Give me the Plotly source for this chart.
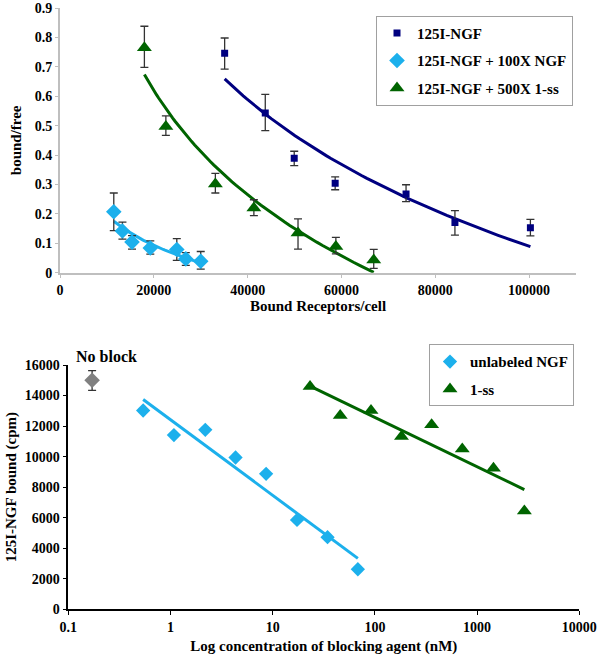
import numpy as np
import plotly.graph_objects as go

# ---------------- Top panel data (Scatchard) ----------------
ngf_x = [35100, 43760, 49930, 58660, 73770, 84190, 100280]
ngf_y = [0.746, 0.543, 0.389, 0.304, 0.268, 0.171, 0.153]
ngf_hi = [0.798, 0.606, 0.413, 0.326, 0.299, 0.211, 0.181]
ngf_lo = [0.692, 0.483, 0.364, 0.282, 0.242, 0.128, 0.125]

cold_x = [11465, 13310, 15350, 19250, 24900, 26820, 30000]
cold_y = [0.207, 0.142, 0.104, 0.084, 0.079, 0.047, 0.039]
cold_hi = [0.271, 0.172, 0.126, 0.108, 0.116, 0.068, 0.072]
cold_lo = [0.143, 0.114, 0.080, 0.063, 0.042, 0.025, 0.012]

ss_x = [17990, 22570, 33120, 41330, 50740, 58810, 66880]
ss_y = [0.765, 0.497, 0.302, 0.220, 0.135, 0.089, 0.043]
ss_hi = [0.838, 0.533, 0.338, 0.248, 0.183, 0.120, 0.079]
ss_lo = [0.698, 0.467, 0.271, 0.194, 0.080, 0.064, 0.015]

top_xticks = [0, 20000, 40000, 60000, 80000, 100000]
top_xlabels = ["0", "20000", "40000", "60000", "80000", "100000"]
top_yticks = [0, 0.1, 0.2, 0.3, 0.4, 0.5, 0.6, 0.7, 0.8, 0.9]
top_ylabels = ["0", "0.1", "0.2", "0.3", "0.4", "0.5", "0.6", "0.7", "0.8", "0.9"]

# ---------------- Bottom panel data (competition) ----------------
noblock_x = [0.171]
noblock_y = [15000]
noblock_hi = [15630]
noblock_lo = [14340]

unl_x = [0.54, 1.08, 2.19, 4.33, 8.62, 17.3, 34.4, 68.1]
unl_y = [13020, 11410, 11757, 9941, 8872, 5856, 4721, 2623]

ss2_x = [23.2, 45.8, 91.6, 182, 359, 716, 1446, 2900]
ss2_y = [14597, 12695, 13022, 11318, 12085, 10492, 9246, 6446]

bot_xticks = [0.1, 1, 10, 100, 1000, 10000]
bot_xlabels = ["0.1", "1", "10", "100", "1000", "10000"]
bot_yticks = [0, 2000, 4000, 6000, 8000, 10000, 12000, 14000, 16000]
bot_ylabels = ["0", "2000", "4000", "6000", "8000", "10000", "12000", "14000", "16000"]

NAVY = "#000080"
CYAN = "#1CB0EC"
GREEN = "#006400"
GREY = "#808080"
FONT = "Liberation Serif, Times New Roman, serif"


def log_fit(xs, ys, n=60):
    lx = np.log(np.asarray(xs, float))
    b, a = np.polyfit(lx, np.asarray(ys, float), 1)
    xx = np.exp(np.linspace(lx.min(), lx.max(), n))
    return xx, a + b * np.log(xx)


def errs(y, hi, lo):
    y = np.asarray(y)
    return dict(type="data", symmetric=False, array=(np.asarray(hi) - y).tolist(),
                arrayminus=(y - np.asarray(lo)).tolist(), color="#333333",
                thickness=1.3, width=4)


def bold(labels):
    return ["<b>%s</b>" % s for s in labels]


fig = go.Figure()

# top fits
for xs, ys, col in [(ngf_x, ngf_y, NAVY), (cold_x, cold_y, CYAN), (ss_x, ss_y, GREEN)]:
    fx, fy = log_fit(xs, ys)
    fig.add_trace(go.Scatter(x=fx, y=fy, mode="lines", line=dict(color=col, width=3),
                             showlegend=False, hoverinfo="skip", xaxis="x", yaxis="y"))

fig.add_trace(go.Scatter(x=ngf_x, y=ngf_y, mode="markers", name="<b>125I-NGF</b>",
                         marker=dict(symbol="square", size=7, color=NAVY),
                         error_y=errs(ngf_y, ngf_hi, ngf_lo), legendgroup="a",
                         legend="legend", xaxis="x", yaxis="y"))
fig.add_trace(go.Scatter(x=cold_x, y=cold_y, mode="markers", name="<b>125I-NGF + 100X NGF</b>",
                         marker=dict(symbol="diamond", size=12, color=CYAN),
                         error_y=errs(cold_y, cold_hi, cold_lo), legendgroup="b",
                         legend="legend", xaxis="x", yaxis="y"))
fig.add_trace(go.Scatter(x=ss_x, y=ss_y, mode="markers", name="<b>125I-NGF + 500X 1-ss</b>",
                         marker=dict(symbol="triangle-up", size=13, color=GREEN),
                         error_y=errs(ss_y, ss_hi, ss_lo), legendgroup="c",
                         legend="legend", xaxis="x", yaxis="y"))

# bottom fits (straight on log axis)
for xs, ys, col in [(unl_x, unl_y, CYAN), (ss2_x, ss2_y, GREEN)]:
    fx, fy = log_fit(xs, ys, n=2)
    fig.add_trace(go.Scatter(x=fx, y=fy, mode="lines", line=dict(color=col, width=3),
                             showlegend=False, hoverinfo="skip", xaxis="x2", yaxis="y2"))

fig.add_trace(go.Scatter(x=noblock_x, y=noblock_y, mode="markers", showlegend=False,
                         marker=dict(symbol="diamond", size=12, color=GREY),
                         error_y=errs(noblock_y, noblock_hi, noblock_lo),
                         xaxis="x2", yaxis="y2"))
fig.add_trace(go.Scatter(x=unl_x, y=unl_y, mode="markers", name="<b>unlabeled NGF</b>",
                         marker=dict(symbol="diamond", size=11, color=CYAN),
                         legendgroup="d", legend="legend2", xaxis="x2", yaxis="y2"))
fig.add_trace(go.Scatter(x=ss2_x, y=ss2_y, mode="markers", name="<b>1-ss</b>",
                         marker=dict(symbol="triangle-up", size=13, color=GREEN),
                         legendgroup="e", legend="legend2", xaxis="x2", yaxis="y2"))

W, H = 600, 659
tickfont = dict(family=FONT, size=14, color="black")
titlefont = dict(family=FONT, size=15, color="black")
legfont = dict(family=FONT, size=15, color="black")

common = dict(showgrid=False, zeroline=False, automargin=False, ticks="outside",
              tickfont=tickfont)

fig.update_layout(
    template="none",
    width=W, height=H, margin=dict(l=0, r=0, t=0, b=0, pad=0),
    paper_bgcolor="white", plot_bgcolor="white",
    font=dict(family=FONT, color="black"),
    xaxis=dict(domain=[60 / W, 576 / W], range=[0, 110000], tickvals=top_xticks,
               ticktext=bold(top_xlabels), showline=True, linecolor="#BFBFBF", linewidth=2,
               ticklen=3, tickcolor="#BFBFBF", anchor="y",
               title=dict(text="<b>Bound Receptors/cell</b>", font=titlefont, standoff=4),
               **common),
    yaxis=dict(domain=[1 - 272.7 / H, 1 - 8 / H], range=[0, 0.9], tickvals=top_yticks,
               ticktext=bold(top_ylabels), showline=True, linecolor="#BFBFBF", linewidth=2,
               ticklen=3, tickcolor="#BFBFBF", anchor="x",
               title=dict(text="<b>bound/free</b>", font=titlefont, standoff=9),
               **common),
    xaxis2=dict(domain=[68.3 / W, 579.3 / W], type="log", range=[-1, 4],
                tickvals=bot_xticks, ticktext=bold(bot_xlabels), showline=True,
                linecolor="black", linewidth=1.5, ticklen=4, tickcolor="black",
                anchor="y2",
                title=dict(text="<b>Log concentration of blocking agent (nM)</b>",
                           font=titlefont, standoff=7),
                **common),
    yaxis2=dict(domain=[1 - 609.3 / H, 1 - 365 / H], range=[0, 16000], tickvals=bot_yticks,
                ticktext=bold(bot_ylabels), showline=True, linecolor="black", linewidth=1.5,
                ticklen=4, tickcolor="black", anchor="x2",
                title=dict(text="<b>125I-NGF bound (cpm)</b>", font=titlefont, standoff=4),
                **common),
    legend=dict(x=376 / W, y=1 - 15.7 / H, xanchor="left", yanchor="top",
                bordercolor="#A0A0A0", borderwidth=1, bgcolor="white", font=legfont,
                traceorder="grouped", tracegroupgap=5),
    legend2=dict(x=429 / W, y=1 - 344.3 / H, xanchor="left", yanchor="top",
                 bordercolor="#A0A0A0", borderwidth=1, bgcolor="white", font=legfont,
                 traceorder="grouped", tracegroupgap=5),
    annotations=[dict(text="<b>No block</b>", x=float(np.log10(noblock_x[0])), y=16000,
                      xref="x2", yref="y2", xanchor="left", yanchor="bottom",
                      showarrow=False, xshift=-18, yshift=-2,
                      font=dict(family=FONT, size=16, color="black"))],
)

fig.write_html("out.html", config={"displayModeBar": False},
               post_script="document.body.style.margin='0';document.body.style.overflow='hidden';")
